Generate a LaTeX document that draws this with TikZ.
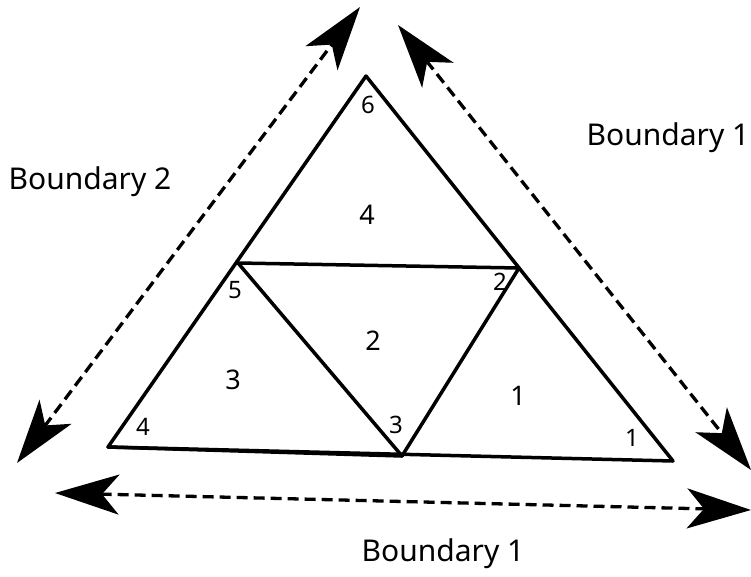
\documentclass[tikz,border=0pt]{standalone}
\usepackage{fontspec}
\setmainfont{Noto Sans}
\usetikzlibrary{arrows.meta}
\begin{document}
\begin{tikzpicture}[x=1pt,y=-1pt,
  edge/.style={line width=3.5pt,line cap=round,line join=round},
  bnd/.style={line width=3.3pt,dash pattern=on 11pt off 6pt,{Stealth[length=64pt,width=40pt,inset=17pt]}-{Stealth[length=64pt,width=40pt,inset=17pt]}},
  big/.style={font=\fontsize{27}{31}\selectfont},
  small/.style={font=\fontsize{24}{28}\selectfont},
  lab/.style={font=\fontsize{30}{34}\selectfont}]
\useasboundingbox (0,0) rectangle (751,576);
\coordinate (v6) at (366,76);
\coordinate (v4) at (108,447);
\coordinate (v1) at (673,461);
\coordinate (v5) at (238,263);
\coordinate (v2) at (519,268);
\coordinate (v3) at (402,456);
\draw[edge] (v4) -- (v6) -- (v1) -- cycle;
\draw[edge] (v5) -- (v2) -- (v3) -- cycle;
\draw[edge] (v4) -- (v3);
% element labels
\node[big] (e4) at (367,215) {4};
\node[big] (e2) at (373,341) {2};
\node[big] (e3) at (233,380) {3};
\node[big] (e1) at (518,396) {1};
% vertex labels
\node[small] (n6) at (368,105) {6};
\node[small] (n5) at (235,290) {5};
\node[small] (n2) at (500,282) {2};
\node[small] (n3) at (396,425) {3};
\node[small] (n4) at (143,427) {4};
\node[small] (n1) at (632,438) {1};
% boundary arrows
\coordinate (a1) at (17,463);
\coordinate (a2) at (360,7);
\coordinate (b1) at (398,25);
\coordinate (b2) at (751,470);
\coordinate (c1) at (55,493);
\coordinate (c2) at (751,510);
\draw[bnd] (a1) -- (a2);
\draw[bnd] (b1) -- (b2);
\draw[bnd] (c1) -- (c2);
\node[lab] (L2) at (90,182) {Boundary 2};
\node[lab] (L1) at (668,138) {Boundary 1};
\node[lab] (L1b) at (443,554) {Boundary 1};
\end{tikzpicture}
\end{document}
